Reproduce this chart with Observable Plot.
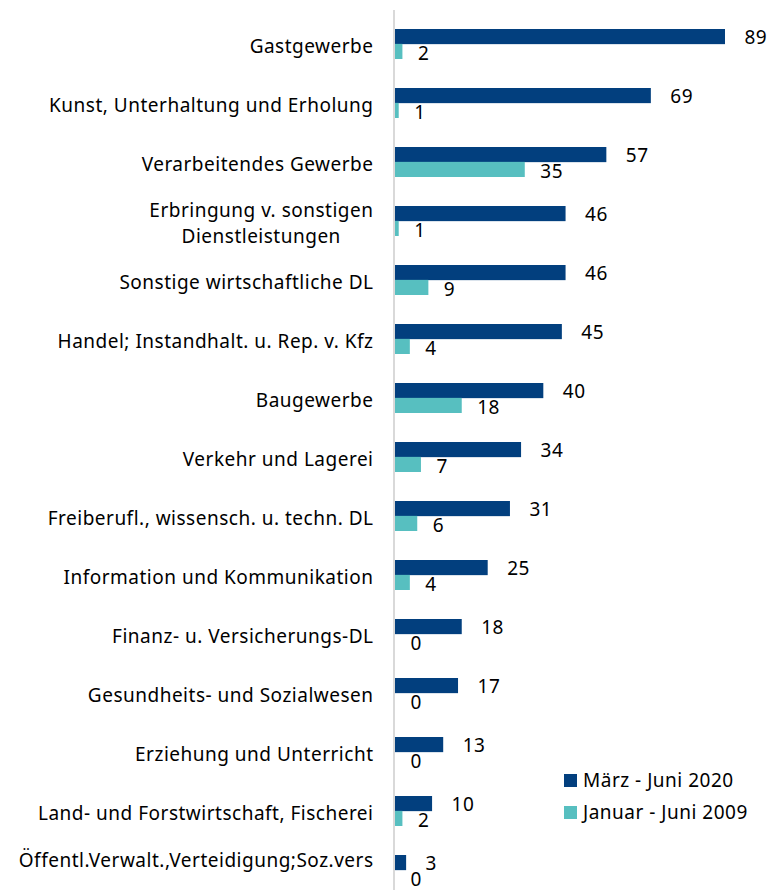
<!DOCTYPE html>
<html>
<head>
<meta charset="utf-8">
<script src="https://cdn.jsdelivr.net/npm/d3@7"></script>
<script src="https://cdn.jsdelivr.net/npm/@observablehq/plot@0.6"></script>
<style>
  body { margin: 0; background: #fff; }
  #wrap { position: relative; width: 769px; height: 890px; overflow: hidden; }
  .legend { position: absolute; left: 564px; top: 764px; font-family: "Noto Sans", sans-serif; font-size: 19px; letter-spacing: 0.5px; color: #000; }
  .legend div { display: flex; align-items: center; height: 32px; }
  .legend span.sw { display: inline-block; width: 13px; height: 13px; margin-right: 6px; }
</style>
</head>
<body>
<div id="wrap"></div>
<script>
const categories = [
  "Gastgewerbe",
  "Kunst, Unterhaltung und Erholung",
  "Verarbeitendes Gewerbe",
  "Erbringung v. sonstigen\nDienstleistungen",
  "Sonstige wirtschaftliche DL",
  "Handel; Instandhalt. u. Rep. v. Kfz",
  "Baugewerbe",
  "Verkehr und Lagerei",
  "Freiberufl., wissensch. u. techn. DL",
  "Information und Kommunikation",
  "Finanz- u. Versicherungs-DL",
  "Gesundheits- und Sozialwesen",
  "Erziehung und Unterricht",
  "Land- und Forstwirtschaft, Fischerei",
  "Öffentl.Verwalt.,Verteidigung;Soz.vers"
];
const values2020 = [89, 69, 57, 46, 46, 45, 40, 34, 31, 25, 18, 17, 13, 10, 3];
const values2009 = [2, 1, 35, 1, 9, 4, 18, 7, 6, 4, 0, 0, 0, 2, 0];
const seriesNames = ["März - Juni 2020", "Januar - Juni 2009"];
const seriesColors = ["#023f7e", "#57bfc0"];

const d2020 = categories.map((c, i) => ({cat: c, series: seriesNames[0], value: values2020[i]}));
const d2009 = categories.map((c, i) => ({cat: c, series: seriesNames[1], value: values2009[i]}));

const fontSize = 19;
const ctx = document.createElement("canvas").getContext("2d");
ctx.font = `${fontSize}px "Noto Sans"`;
try { ctx.letterSpacing = "0.5px"; } catch (e) {}
const spaceW = ctx.measureText(" ").width;
// center multi-line labels by padding shorter lines with trailing spaces
function centerLines(label) {
  const lines = label.split("\n");
  if (lines.length < 2) return label;
  const widths = lines.map(l => ctx.measureText(l).width);
  const maxW = Math.max(...widths);
  return lines.map((l, i) => l + " ".repeat(Math.round((maxW - widths[i]) / 2 / spaceW))).join("\n");
}

const yRange = [11.3, 902.7];
const paddingInner = 0.5, paddingOuter = 0.25;
const step = (yRange[1] - yRange[0]) / (categories.length - paddingInner + 2 * paddingOuter);
const bw = step * (1 - paddingInner);

const axisOpts = {tickSize: 0, tickPadding: 22, label: null, tickFormat: centerLines, lineHeight: 1.4, fill: "#000"};

const chart = Plot.plot({
  width: 769,
  height: 890,
  marginLeft: 395,
  marginRight: 44,
  marginTop: 10,
  marginBottom: 0,
  style: {fontFamily: '"Noto Sans", sans-serif', fontSize: fontSize + "px", letterSpacing: "0.5px", color: "#000", background: "#fff"},
  x: {domain: [0, 89], axis: null},
  y: {domain: categories, range: yRange, paddingInner, paddingOuter, axis: null},
  marks: [
    Plot.barX(d2020, {x: "value", y: "cat", fill: seriesColors[0], insetBottom: bw / 2}),
    Plot.barX(d2009, {x: "value", y: "cat", fill: seriesColors[1], insetTop: bw / 2}),
    Plot.ruleX([0], {stroke: "#d9d9d9", strokeWidth: 2, dx: -1.5}),
    Plot.axisY({...axisOpts, ticks: categories.slice(0, -1)}),
    Plot.axisY({...axisOpts, ticks: categories.slice(-1), dy: -12}),
    Plot.text(d2020, {x: "value", y: "cat", text: d => String(d.value), textAnchor: "start", dx: 19, dy: -6.5, fill: "#000"}),
    Plot.text(d2009, {x: "value", y: "cat", text: d => String(d.value), textAnchor: "start", dx: 15, dy: 9.5, fill: "#000"})
  ]
});
const wrap = document.getElementById("wrap");
wrap.appendChild(chart);

const legend = document.createElement("div");
legend.className = "legend";
seriesNames.forEach((name, i) => {
  const row = document.createElement("div");
  const sw = document.createElement("span");
  sw.className = "sw";
  sw.style.background = seriesColors[i];
  row.appendChild(sw);
  row.appendChild(document.createTextNode(name));
  legend.appendChild(row);
});
wrap.appendChild(legend);
</script>
</body>
</html>
